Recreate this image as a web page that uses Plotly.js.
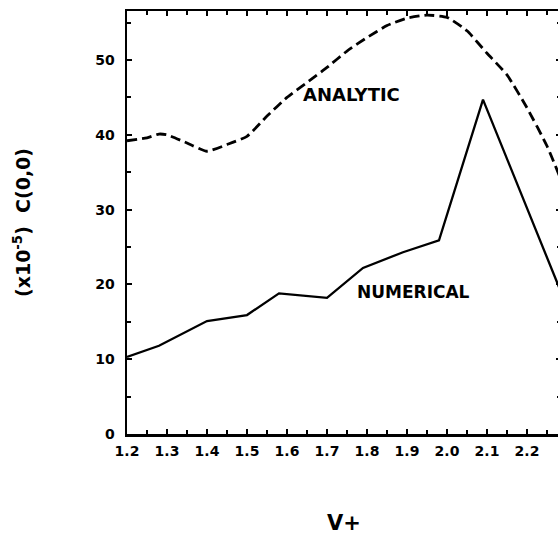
<!DOCTYPE html>
<html>
<head>
<meta charset="utf-8">
<script src="https://cdn.plot.ly/plotly-3.0.1.min.js"></script>
<style>
html,body{margin:0;padding:0;overflow:hidden;background:#fff;}
#chart{width:561px;height:535px;}
</style>
</head>
<body>
<div id="chart"></div>
<script>
// Analytic curve (dashed)
const analyticV = [1.2, 1.25, 1.28, 1.3, 1.35, 1.4, 1.45, 1.5, 1.55, 1.6, 1.65, 1.7, 1.75, 1.8, 1.85, 1.9, 1.95, 2.0, 2.05, 2.1, 2.15, 2.2, 2.25, 2.3];
const analyticC = [39.2, 39.6, 40.1, 40.0, 38.9, 37.8, 38.7, 39.8, 42.5, 45.0, 47.0, 49.0, 51.2, 53.0, 54.6, 55.6, 56.0, 55.7, 53.9, 50.9, 48.0, 43.6, 38.5, 32.0];
// Numerical curve (solid)
const numericalV = [1.2, 1.28, 1.4, 1.5, 1.58, 1.7, 1.79, 1.89, 1.98, 2.09, 2.3];
const numericalC = [10.3, 11.8, 15.1, 15.9, 18.8, 18.2, 22.2, 24.3, 25.9, 44.7, 17.0];
// Axis ticks
const xTicks = [1.2, 1.3, 1.4, 1.5, 1.6, 1.7, 1.8, 1.9, 2.0, 2.1, 2.2];
const xTickText = ["1.2", "1.3", "1.4", "1.5", "1.6", "1.7", "1.8", "1.9", "2.0", "2.1", "2.2"];
const yTicks = [0, 10, 20, 30, 40, 50];
const yTickText = ["0", "10", "20", "30", "40", "50"];
// Curve labels
const labelText = ["ANALYTIC", "NUMERICAL"];
const labelV = [1.76, 1.915];
const labelC = [45.4, 19.0];
const labelSize = [18, 17];

const fam = "DejaVu Sans, Liberation Sans, Arial, sans-serif";
const font = {family: fam, size: 14, color: "#000", weight: "bold"};

const traces = [
  {x: analyticV, y: analyticC, mode: "lines", type: "scatter", name: "ANALYTIC",
   line: {color: "#000", width: 2.8, dash: "10px,5px", shape: "spline", smoothing: 0.5}},
  {x: numericalV, y: numericalC, mode: "lines", type: "scatter", name: "NUMERICAL",
   line: {color: "#000", width: 2.3}}
];

const layout = {
  width: 561, height: 535,
  margin: {l: 127, r: 0, t: 11, b: 101},
  paper_bgcolor: "#fff", plot_bgcolor: "#fff",
  showlegend: false,
  font: font,
  xaxis: {
    range: [1.2, 2.285], tickvals: xTicks, ticktext: xTickText,
    ticks: "inside", ticklen: 5, tickwidth: 2, tickcolor: "#000",
    minor: {dtick: 0.05, tick0: 1.2, ticks: "inside", ticklen: 4, tickwidth: 2, tickcolor: "#000"},
    showline: true, linecolor: "#000", linewidth: 2.5, mirror: "allticks",
    showgrid: false, zeroline: false,
    tickfont: font, ticklabelstandoff: 3,
    title: {text: "V+", font: {family: fam, size: 21, color: "#000", weight: "bold"}, standoff: 58}
  },
  yaxis: {
    range: [0, 56.55], tickvals: yTicks, ticktext: yTickText,
    ticks: "inside", ticklen: 5, tickwidth: 2, tickcolor: "#000",
    minor: {dtick: 5, tick0: 0, ticks: "inside", ticklen: 4, tickwidth: 2, tickcolor: "#000"},
    showline: true, linecolor: "#000", linewidth: 2.5, mirror: "allticks",
    showgrid: false, zeroline: false,
    tickfont: font, ticklabelstandoff: 7,
    title: {text: "(x10<sup>-5</sup>)  C(0,0)", font: {family: fam, size: 19, color: "#000", weight: "bold"}, standoff: 60}
  },
  annotations: labelText.map((t, i) => ({
    x: labelV[i], y: labelC[i], xref: "x", yref: "y", text: t, showarrow: false,
    font: {family: fam, size: labelSize[i], color: "#000", weight: "bold"}
  }))
};

Plotly.newPlot("chart", traces, layout, {displayModeBar: false, staticPlot: true});
</script>
</body>
</html>
